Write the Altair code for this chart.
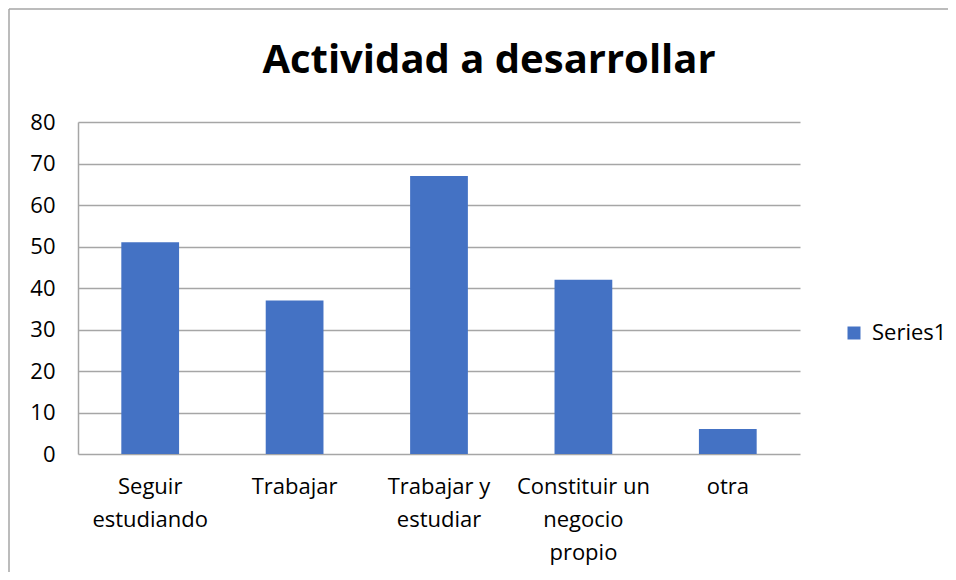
import altair as alt
import pandas as pd

TITLE = "Actividad a desarrollar"
categories = ["Seguir\nestudiando", "Trabajar", "Trabajar y\nestudiar",
              "Constituir un\nnegocio\npropio", "otra"]
values = [51, 37, 67, 42, 6]
series = ["Series1"] * 5
y_ticks = [0, 10, 20, 30, 40, 50, 60, 70, 80]

df = pd.DataFrame({"cat": categories, "val": values, "series": series})
title_df = pd.DataFrame({"t": [TITLE]})

FONT = "Open Sans"
FS = 22

bars = alt.Chart(df).mark_bar(color="#4472C4").encode(
    x=alt.X("cat:N", sort=categories,
            scale=alt.Scale(paddingInner=0.6, paddingOuter=0.3),
            axis=alt.Axis(title=None, labelAngle=0, ticks=False, domain=False,
                          labelExpr="split(datum.label, '\\n')",
                          labelLineHeight=33, labelPadding=22,
                          labelFontSize=FS, labelFont=FONT, labelColor="#000000",
                          labelBaseline="top")),
    y=alt.Y("val:Q", scale=alt.Scale(domain=[0, 80]),
            axis=alt.Axis(title=None, values=y_ticks, ticks=False, domain=True,
                          domainColor="#a6a6a6", domainWidth=1.5,
                          gridColor="#a6a6a6", gridWidth=1.5,
                          labelPadding=23, labelFontSize=FS, labelFont=FONT,
                          labelColor="#000000")),
    color=alt.Color("series:N", scale=alt.Scale(range=["#4472C4"]),
                    legend=alt.Legend(title=None, orient="none", legendX=765, legendY=200,
                                      symbolType="square", symbolSize=169,
                                      symbolStrokeWidth=0,
                                      labelFontSize=FS, labelFont=FONT,
                                      labelColor="#000000", labelOffset=7)),
)

border_top = alt.Chart(title_df).mark_rule(color="#a6a6a6", strokeWidth=1.5).encode(
    x=alt.value(-69), x2=alt.value(1200), y=alt.value(-113)
)
border_left = alt.Chart(title_df).mark_rule(color="#a6a6a6", strokeWidth=1.5).encode(
    x=alt.value(-69), y=alt.value(-113), y2=alt.value(900)
)

title = alt.Chart(title_df).mark_text(
    font=FONT, fontSize=40, fontWeight="bold", color="#000000",
    align="center", baseline="alphabetic"
).encode(x=alt.value(411), y=alt.value(-49), text="t:N")

chart = alt.layer(border_top, border_left, bars, title).properties(
    width=722, height=332,
    autosize=alt.AutoSizeParams(type="none"),
    padding={"left": 70, "top": 114, "right": 148, "bottom": 118},
).configure_view(stroke=None)

chart.save("out.html", embed_options={"renderer": "svg", "actions": False})
